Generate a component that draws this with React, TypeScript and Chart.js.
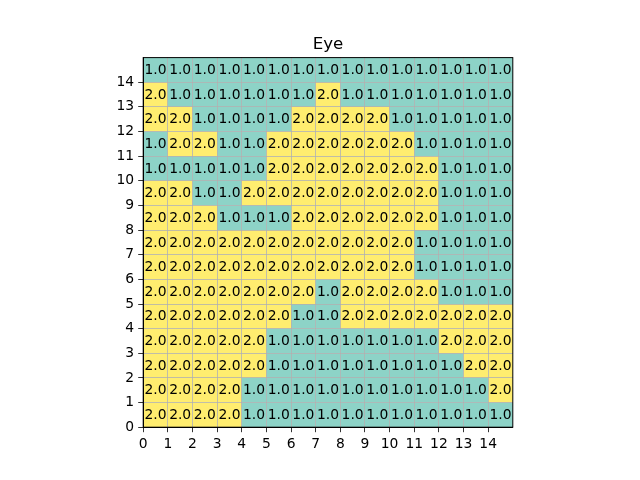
import React, { useEffect, useRef } from "react";
import { Chart, registerables } from "chart.js";

Chart.register(...registerables);

const chartTitle = "Eye";
const tickLabels = ["0", "1", "2", "3", "4", "5", "6", "7", "8", "9", "10", "11", "12", "13", "14"];

// Cell values, listed from the top row (y = 14) down to the bottom row (y = 0)
const row14 = [1, 1, 1, 1, 1, 1, 1, 1, 1, 1, 1, 1, 1, 1, 1];
const row13 = [2, 1, 1, 1, 1, 1, 1, 2, 1, 1, 1, 1, 1, 1, 1];
const row12 = [2, 2, 1, 1, 1, 1, 2, 2, 2, 2, 1, 1, 1, 1, 1];
const row11 = [1, 2, 2, 1, 1, 2, 2, 2, 2, 2, 2, 1, 1, 1, 1];
const row10 = [1, 1, 1, 1, 1, 2, 2, 2, 2, 2, 2, 2, 1, 1, 1];
const row9 = [2, 2, 1, 1, 2, 2, 2, 2, 2, 2, 2, 2, 1, 1, 1];
const row8 = [2, 2, 2, 1, 1, 1, 2, 2, 2, 2, 2, 2, 1, 1, 1];
const row7 = [2, 2, 2, 2, 2, 2, 2, 2, 2, 2, 2, 1, 1, 1, 1];
const row6 = [2, 2, 2, 2, 2, 2, 2, 2, 2, 2, 2, 1, 1, 1, 1];
const row5 = [2, 2, 2, 2, 2, 2, 2, 1, 2, 2, 2, 2, 1, 1, 1];
const row4 = [2, 2, 2, 2, 2, 2, 1, 1, 2, 2, 2, 2, 2, 2, 2];
const row3 = [2, 2, 2, 2, 2, 1, 1, 1, 1, 1, 1, 1, 2, 2, 2];
const row2 = [2, 2, 2, 2, 2, 1, 1, 1, 1, 1, 1, 1, 1, 2, 2];
const row1 = [2, 2, 2, 2, 1, 1, 1, 1, 1, 1, 1, 1, 1, 1, 2];
const row0 = [2, 2, 2, 2, 1, 1, 1, 1, 1, 1, 1, 1, 1, 1, 1];

const rowsTopToBottom = [row14, row13, row12, row11, row10, row9, row8, row7, row6, row5, row4, row3, row2, row1, row0];

const colorFor: Record<number, string> = { 1: "#8dd3c7", 2: "#ffed6f" };
const FONT = "DejaVu Sans";

export default function App() {
  const ref = useRef<HTMLCanvasElement | null>(null);

  useEffect(() => {
    if (!ref.current) return;
    const n = rowsTopToBottom.length;
    const points: { x: number; y: number; v: number }[] = [];
    rowsTopToBottom.forEach((row, ri) => {
      const yIdx = n - 1 - ri;
      row.forEach((v, xi) => points.push({ x: xi + 0.5, y: yIdx + 0.5, v }));
    });

    const cellsPlugin = {
      id: "cells",
      beforeDraw(chart: any) {
        const { ctx, scales } = chart;
        const xs = scales.x, ys = scales.y;
        ctx.save();
        points.forEach((p) => {
          const x0 = xs.getPixelForValue(p.x - 0.5);
          const x1 = xs.getPixelForValue(p.x + 0.5);
          const y0 = ys.getPixelForValue(p.y + 0.5);
          const y1 = ys.getPixelForValue(p.y - 0.5);
          ctx.fillStyle = colorFor[p.v];
          ctx.fillRect(x0, y0, x1 - x0, y1 - y0);
        });
        ctx.restore();
      },
      afterDatasetsDraw(chart: any) {
        const { ctx, scales } = chart;
        const xs = scales.x, ys = scales.y;
        ctx.save();
        ctx.fillStyle = "#000";
        ctx.font = `13.89px "${FONT}"`;
        ctx.textAlign = "center";
        ctx.textBaseline = "middle";
        points.forEach((p) => {
          ctx.fillText(p.v.toFixed(1), xs.getPixelForValue(p.x), ys.getPixelForValue(p.y) + 0.5);
        });
        ctx.restore();
      },
      afterDraw(chart: any) {
        const { ctx, chartArea } = chart;
        ctx.save();
        ctx.strokeStyle = "#000";
        ctx.lineWidth = 1;
        ctx.strokeRect(chartArea.left, chartArea.top, chartArea.right - chartArea.left, chartArea.bottom - chartArea.top);
        ctx.fillStyle = "#000";
        ctx.font = `16.67px "${FONT}"`;
        ctx.textAlign = "center";
        ctx.textBaseline = "alphabetic";
        ctx.fillText(chartTitle, (chartArea.left + chartArea.right) / 2, chartArea.top - 8.3);
        ctx.restore();
      },
    };

    const axisCommon = (pos: string) => ({
      type: "linear" as const,
      position: pos,
      min: 0,
      max: 15,
      afterBuildTicks: (scale: any) => {
        const t: any[] = [];
        for (let i = 0; i < tickLabels.length; i++) t.push({ value: i });
        scale.ticks = t;
      },
      ticks: {
        stepSize: 1,
        autoSkip: false,
        maxRotation: 0,
        color: "#000",
        padding: 4,
        font: { family: FONT, size: 13.89 },
        callback: (v: any) => tickLabels[Number(v)] ?? "",
      },
      grid: {
        color: "#b0b0b0",
        lineWidth: 0.8,
        tickColor: "#000",
        tickLength: 5,
        drawTicks: true,
      },
      border: { color: "#000", width: 1 },
    });

    const chart = new Chart(ref.current, {
      type: "scatter",
      data: {
        datasets: [
          {
            data: points,
            pointRadius: 0,
            pointHoverRadius: 0,
          },
        ],
      },
      options: {
        responsive: false,
        animation: false,
        events: [],
        layout: { padding: { left: 103.2, right: 127.2, top: 57.6, bottom: 12.8 } },
        plugins: { legend: { display: false }, title: { display: false }, tooltip: { enabled: false } },
        scales: {
          x: { ...axisCommon("bottom"), afterFit: (s: any) => { s.height = 40; } },
          y: { ...axisCommon("left"), afterFit: (s: any) => { s.width = 40; } },
        } as any,
      },
      plugins: [cellsPlugin],
    });
    return () => chart.destroy();
  }, []);

  return (
    <div style={{ position: "absolute", left: 0, top: 0, width: 640, height: 480, background: "#fff" }}>
      <canvas ref={ref} width={640} height={480} style={{ width: 640, height: 480, display: "block" }} />
    </div>
  );
}
